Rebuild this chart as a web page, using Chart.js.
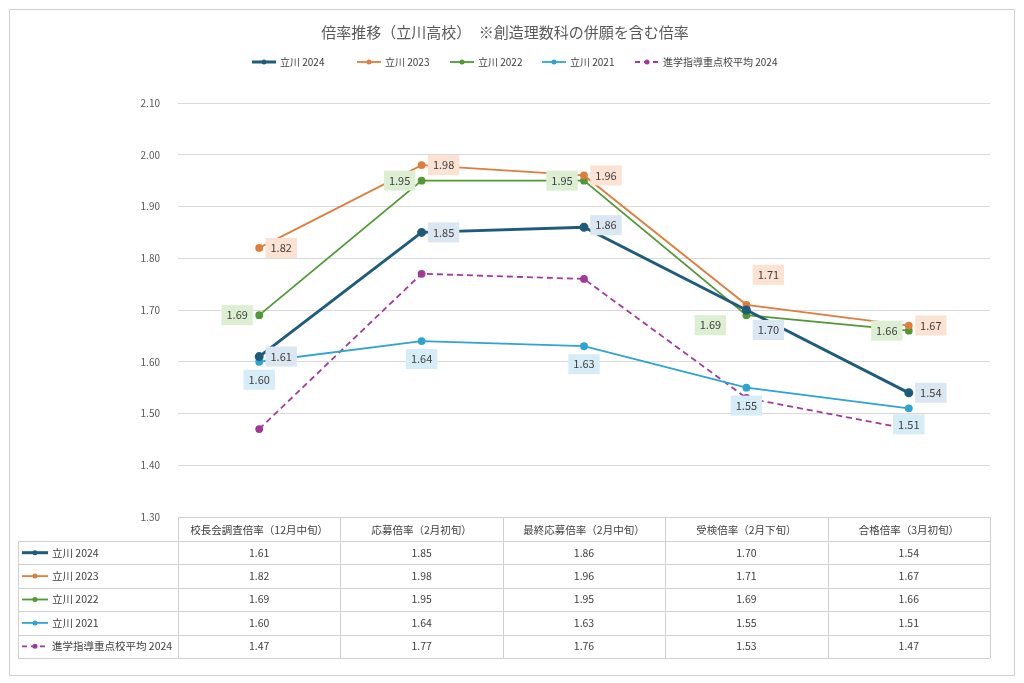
<!DOCTYPE html><html><head><meta charset="utf-8">
<script src="https://cdn.jsdelivr.net/npm/chart.js@4"></script>
<style>html,body{margin:0;background:#fff}#w{width:1024px;height:683px;position:relative}</style></head><body><div id="w"><canvas id="c"></canvas></div>
<script>
const categories=["校長会調査倍率（12月中旬）","応募倍率（2月初旬）","最終応募倍率（2月中旬）","受検倍率（2月下旬）","合格倍率（3月初旬）"];
const seriesNames=["立川 2024","立川 2023","立川 2022","立川 2021","進学指導重点校平均 2024"];
const tachikawa2024=[1.61,1.85,1.86,1.70,1.54];
const tachikawa2023=[1.82,1.98,1.96,1.71,1.67];
const tachikawa2022=[1.69,1.95,1.95,1.69,1.66];
const tachikawa2021=[1.60,1.64,1.63,1.55,1.51];
const juten2024=[1.47,1.77,1.76,1.53,1.47];
const yTicks=[1.30,1.40,1.50,1.60,1.70,1.80,1.90,2.00,2.10];
const values=[tachikawa2024,tachikawa2023,tachikawa2022,tachikawa2021,juten2024];
const colors=['#1d5c7c','#e07d3c','#4f9a35','#2da4d2','#a2399a'];
const tints=['#dbe6f3','#fbe2d3','#dcefd3','#d6ecf7',null];
const widths=[3,1.8,1.8,1.8,1.8];
// label placement offsets (dx,dy) per series per point
const lblOff=[
 [[22,0],[22,0],[22,-2],[22,20],[22,0]],
 [[22,0],[22,0],[22,0],[22,-30],[22,0]],
 [[-22,0],[-22,0],[-22,0],[-36,10],[-22,0]],
 [[0,18],[0,18],[0,18],[0,18],[0,16]],
 null];
const FONT='"Noto Sans CJK JP","Noto Sans",sans-serif';
const plug={id:'p',
beforeDraw(ch){const c=ch.ctx;c.save();c.fillStyle='#fff';c.fillRect(0,0,1024,683);c.strokeStyle='#d0d0d0';c.lineWidth=1;c.strokeRect(9.5,9.5,1005,666);c.restore();},
afterDraw(ch){const c=ch.ctx,x=ch.scales.x,y=ch.scales.y,a=ch.chartArea;c.save();
 c.fillStyle='#595959';c.font='15px '+FONT;c.textAlign='center';c.textBaseline='middle';c.fillText('倍率推移（立川高校）　※創造理数科の併願を含む倍率',505,32);
 // legend
 c.font='10px '+FONT;c.textAlign='left';let lx=[252,357,450,542,635];
 seriesNames.forEach((n,i)=>{marker(c,lx[i],62,i,24);c.fillStyle='#404040';c.fillText(n,lx[i]+28,62);});
 // labels
 values.forEach((v,i)=>{if(!lblOff[i])return;v.forEach((val,j)=>{const px=x.getPixelForValue(j)+lblOff[i][j][0],py=y.getPixelForValue(val)+lblOff[i][j][1];
  const t=val.toFixed(2);c.font='11px '+FONT;const w=c.measureText(t).width+10;c.fillStyle=tints[i];c.fillRect(px-w/2,py-10,w,20);c.fillStyle='#404040';c.textAlign='center';c.fillText(t,px,py);});});
 // table
 const top=a.bottom,hh=24,rh=23.4,L=18,R=a.right;c.strokeStyle='#d0d0d0';c.lineWidth=1;
 const rows=values.length,bot=top+hh+rows*rh;
 c.beginPath();c.moveTo(a.left,top+.5);c.lineTo(R,top+.5);
 for(let r=0;r<=rows;r++){const yy=Math.round(top+hh+r*rh)+.5;c.moveTo(L,yy);c.lineTo(R,yy);}
 const bw=(R-a.left)/categories.length;
 for(let k=0;k<=categories.length;k++){const xx=Math.round(a.left+k*bw)+.5;c.moveTo(xx,top);c.lineTo(xx,bot);}
 c.moveTo(L+.5,top+hh);c.lineTo(L+.5,bot);c.stroke();
 c.fillStyle='#404040';c.font='10.5px '+FONT;c.textAlign='center';
 categories.forEach((t,k)=>c.fillText(t,a.left+(k+.5)*bw,top+hh/2+1));
 values.forEach((v,i)=>{const yy=top+hh+(i+.5)*rh;marker(c,22,yy,i,26);c.textAlign='left';c.fillStyle='#404040';c.fillText(seriesNames[i],52,yy);c.textAlign='center';
  v.forEach((val,k)=>c.fillText(val.toFixed(2),a.left+(k+.5)*bw,yy));});
 c.restore();}};
function marker(c,x0,yy,i,len){c.save();c.strokeStyle=colors[i];c.lineWidth=i==0?3:1.8;if(i==4)c.setLineDash([5,4]);c.beginPath();c.moveTo(x0,yy);c.lineTo(x0+len,yy);c.stroke();c.setLineDash([]);c.fillStyle=colors[i];c.beginPath();c.arc(x0+len/2,yy,2.5,0,7);c.fill();c.restore();}
new Chart(document.getElementById('c'),{type:'line',
data:{labels:categories,datasets:values.map((v,i)=>({label:seriesNames[i],data:v,borderColor:colors[i],backgroundColor:colors[i],borderWidth:widths[i],pointRadius:3,pointHoverRadius:3,borderDash:i==4?[6,4]:[],tension:0}))},
options:{responsive:true,maintainAspectRatio:false,animation:false,devicePixelRatio:1,
layout:{padding:{left:20,right:34,top:103,bottom:166}},
plugins:{legend:{display:false},title:{display:false},tooltip:{enabled:false}},
scales:{x:{display:false,offset:true},
y:{min:1.3,max:2.1,afterFit(s){s.width=158;},afterBuildTicks(s){s.ticks=yTicks.map(v=>({value:v}));},
ticks:{color:'#595959',font:{size:10,family:FONT},padding:18,callback:v=>v.toFixed(2)},grid:{color:'#d9d9d9',drawTicks:false},border:{display:false}}}},
plugins:[plug]});
</script></body></html>
